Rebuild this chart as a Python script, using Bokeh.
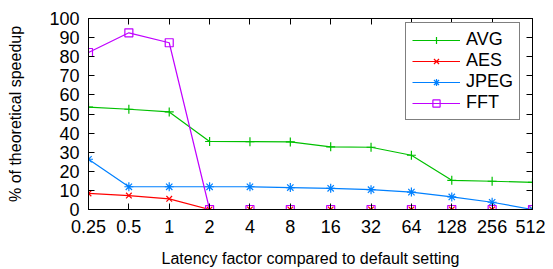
from bokeh.plotting import figure
from bokeh.models import (ColumnDataSource, Range1d, FixedTicker, LinearAxis,
                          Legend, LegendItem)
from bokeh.embed import file_html
from bokeh.resources import INLINE

# ---- data ----
latency_labels = ["0.25", "0.5", "1", "2", "4", "8", "16", "32", "64", "128", "256", "512"]
avg_vals = [53.6, 52.5, 51.1, 35.6, 35.5, 35.4, 32.8, 32.6, 28.4, 15.3, 14.8, 14.2]
aes_vals = [8.4, 7.3, 5.6, 0, 0, 0, 0, 0, 0, 0, 0, 0]
jpeg_vals = [26.3, 11.9, 11.9, 11.9, 11.9, 11.5, 11.1, 10.4, 9.1, 6.6, 3.8, 0]
fft_vals = [82.2, 92.5, 87.3, 0, 0, 0, 0, 0, 0, 0, 0, 0]
y_ticks = [0, 10, 20, 30, 40, 50, 60, 70, 80, 90, 100]

FONT = "Liberation Sans"
idx = list(range(len(latency_labels)))

p = figure(width=545, height=261, output_backend="svg", toolbar_location=None,
           x_range=Range1d(0, len(latency_labels) - 1), y_range=Range1d(0, 100),
           frame_width=444, frame_height=191,
           min_border_left=88, min_border_right=13, min_border_top=18, min_border_bottom=52)
p.grid.visible = False
p.outline_line_color = "black"
p.outline_line_width = 1
p.background_fill_color = "white"
p.border_fill_color = "white"

# axes
xa = p.xaxis[0]
xa.ticker = FixedTicker(ticks=idx)
xa.major_label_overrides = {i: l for i, l in enumerate(latency_labels)}
ya = p.yaxis[0]
ya.ticker = FixedTicker(ticks=y_ticks)
for ax in (xa, ya):
    ax.major_tick_in = 6
    ax.major_tick_out = 0
    ax.minor_tick_line_color = None
    ax.axis_line_color = "black"
    ax.major_tick_line_color = "black"
    ax.major_label_text_font = FONT
    ax.major_label_text_font_size = "18px"
    ax.major_label_text_color = "black"
    ax.axis_label_text_font = FONT
    ax.axis_label_text_font_size = "16px"
    ax.axis_label_text_font_style = "normal"
    ax.axis_label_text_color = "black"
xa.axis_label = "Latency factor compared to default setting"
ya.axis_label = "% of theoretical speedup"
xa.major_label_standoff = 10
ya.major_label_standoff = 9
xa.axis_label_standoff = 14
ya.axis_label_standoff = 22

# mirror axes (ticks only)
top = LinearAxis(ticker=FixedTicker(ticks=idx), major_tick_in=6, major_tick_out=0,
                 minor_tick_line_color=None, major_label_text_font_size="0px",
                 major_label_text_color=None, axis_line_color="black")
right = LinearAxis(ticker=FixedTicker(ticks=y_ticks), major_tick_in=6, major_tick_out=0,
                   minor_tick_line_color=None, major_label_text_font_size="0px",
                   major_label_text_color=None, axis_line_color="black")
p.add_layout(top, "above")
p.add_layout(right, "right")

src = ColumnDataSource(dict(x=idx, avg=avg_vals, aes=aes_vals, jpeg=jpeg_vals, fft=fft_vals))

series = [
    ("AVG", "avg", "#00c000", "cross", 9),
    ("AES", "aes", "#ff0000", "x", 8),
    ("JPEG", "jpeg", "#0080ff", "asterisk", 9),
    ("FFT", "fft", "#c000ff", "square", 8),
]
items = []
for name, col, color, marker, size in series:
    l = p.line("x", col, source=src, line_color=color, line_width=1.2)
    s = p.scatter("x", col, source=src, marker=marker, size=size,
                  line_color=color, fill_color=None, line_width=1.2)
    items.append(LegendItem(label=name, renderers=[l, s]))

legend = Legend(items=items, location=(317, 89))
legend.label_text_font = FONT
legend.label_text_font_size = "18px"
legend.label_text_color = "black"
legend.border_line_color = "black"
legend.border_line_width = 1
legend.background_fill_alpha = 1
legend.glyph_width = 48
legend.glyph_height = 18
legend.label_height = 18
legend.spacing = 0
legend.padding = 6
legend.margin = 0
legend.label_standoff = 6
p.add_layout(legend, "center")

open("out.html", "w").write(file_html(p, INLINE))
